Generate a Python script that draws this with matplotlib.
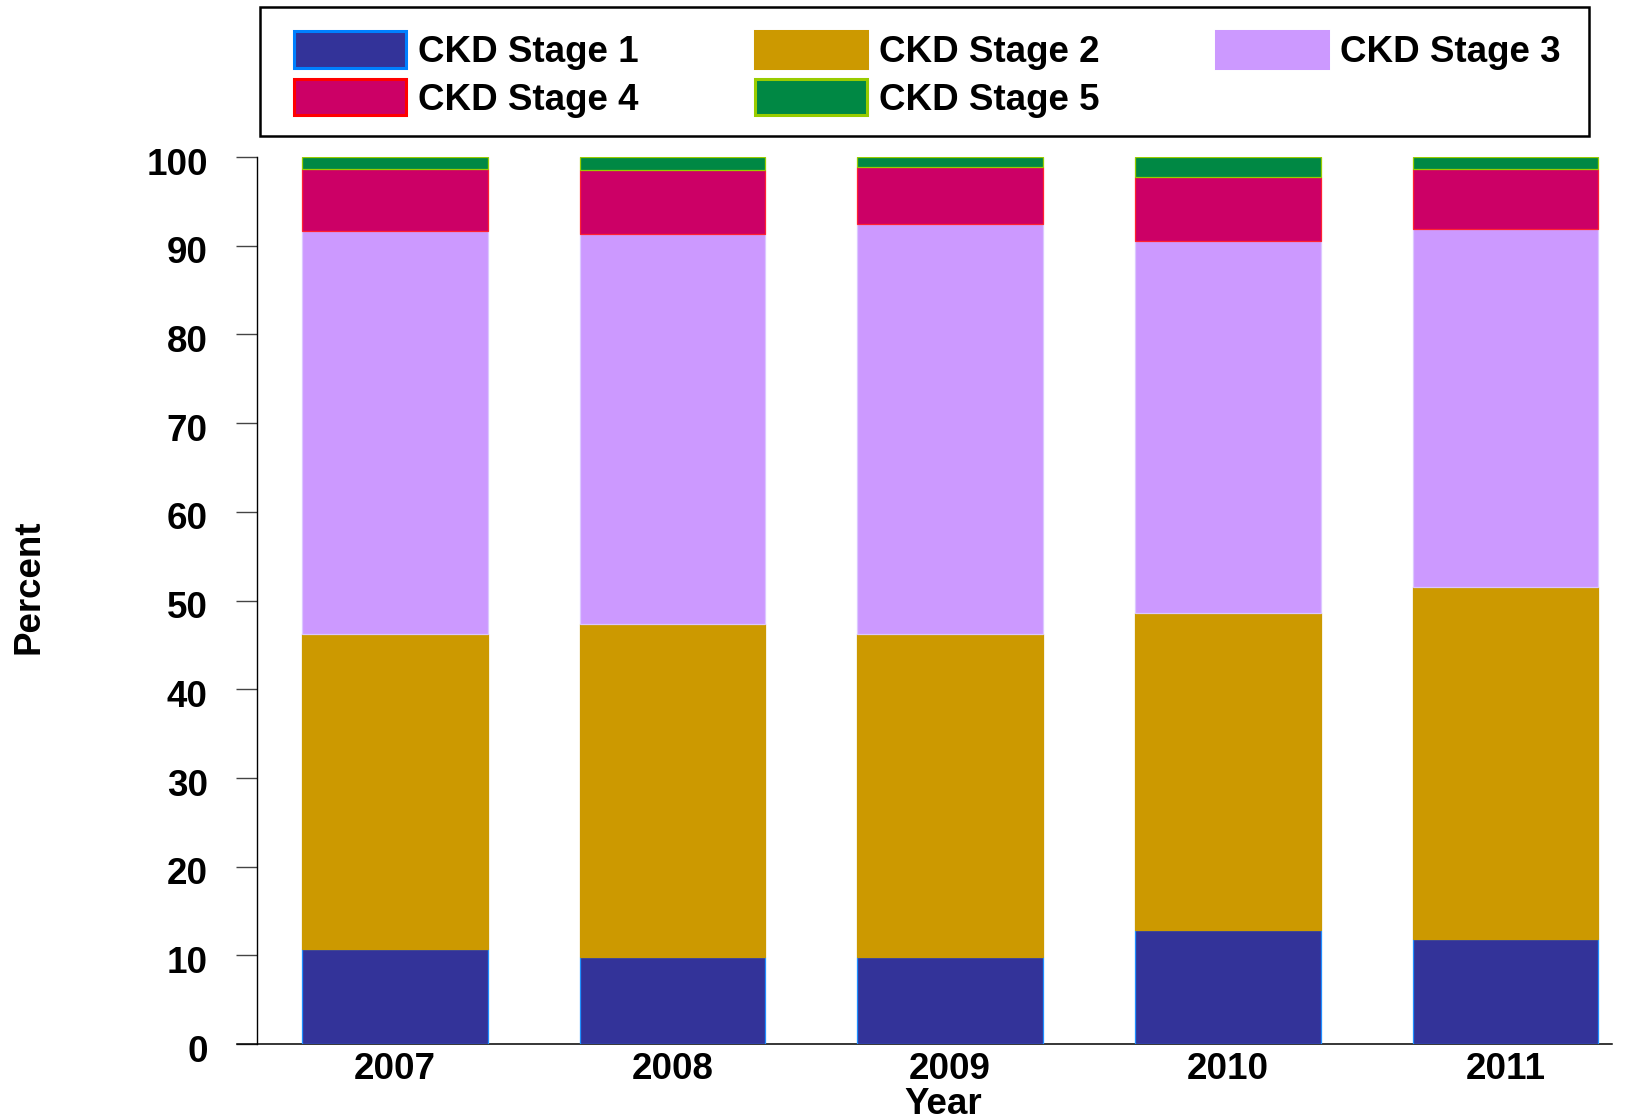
import matplotlib
matplotlib.use("Agg")
import matplotlib.pyplot as plt
import matplotlib.transforms as mtransforms
from matplotlib.patches import Patch, Rectangle

plt.rcParams['font.family'] = ['Liberation Sans', 'DejaVu Sans']
plt.rcParams['font.weight'] = 'bold'

# values (percent of each year's bar)
years = ['2007', '2008', '2009', '2010', '2011']
stage1 = [10.7, 9.8, 9.8, 12.9, 11.8]
stage2 = [35.5, 37.5, 36.4, 35.7, 39.7]
stage3 = [45.5, 44.0, 46.3, 41.9, 40.4]
stage4 = [6.9, 7.2, 6.4, 7.2, 6.7]
stage5 = [1.4, 1.5, 1.1, 2.3, 1.4]
labels = ['CKD Stage 1', 'CKD Stage 2', 'CKD Stage 3', 'CKD Stage 4', 'CKD Stage 5']
yticks = [0, 10, 20, 30, 40, 50, 60, 70, 80, 90, 100]

faces = ['#333399', '#CC9900', '#CC99FF', '#CC0066', '#008844']
edges = ['#1E8FFF', '#CC9900', '#DCC8FF', '#FF2233', '#99CC00']
leg_edges = ['#0080FF', '#CC9900', '#CC99FF', '#FF0000', '#99CC00']

W, H = 1652, 1120
fig = plt.figure(figsize=(W / 100, H / 100), dpi=100)
ax = fig.add_axes([237 / W, 1 - 1044 / H, (1612 - 237) / W, (1044 - 157) / H])

# move the y spine first, it resets the axis ticks
ax.spines['top'].set_visible(False)
ax.spines['right'].set_visible(False)
ax.spines['left'].set_position(('data', -0.497))
ax.spines['left'].set_linewidth(1.0)
ax.spines['bottom'].set_linewidth(1.1)

x = list(range(len(years)))
bottom = [0.0] * len(years)
for vals, fc, ec in zip([stage1, stage2, stage3, stage4, stage5], faces, edges):
    ax.bar(x, vals, width=0.668, bottom=bottom, color=fc, edgecolor=ec, linewidth=0.9, zorder=3)
    bottom = [b + v for b, v in zip(bottom, vals)]

ax.set_xlim(-0.569, 4.384)
ax.set_ylim(0, 100)
ax.set_yticks(yticks)
ax.set_yticklabels([str(t) for t in yticks], fontsize=26.5, fontweight='bold')
ax.set_xticks(x)
ax.set_xticklabels(years, fontsize=26.5, fontweight='bold')
ax.tick_params(axis='y', direction='out', length=15, width=1.0, color='#444444', pad=22)
ax.tick_params(axis='x', length=0, pad=5.5)

# the reference sets its y numbers a touch below the tick marks
shift = mtransforms.ScaledTranslation(1.5 / 72, -3 / 72, fig.dpi_scale_trans)
for lab in ax.get_yticklabels():
    lab.set_transform(lab.get_transform() + shift)

fig.text(943 / W, 1 - 1114.5 / H, 'Year', fontsize=26.5, fontweight='bold',
         ha='center', va='baseline')
fig.text(29 / W, 1 - 587 / H, 'Percent', fontsize=26.5, fontweight='bold',
         rotation=90, ha='center', va='center')

# legend, filled row by row like the reference
handles = [Patch(facecolor=fc, edgecolor=ec, linewidth=2.2, label=lb)
           for fc, ec, lb in zip(faces, leg_edges, labels)]
order = [0, 3, 1, 4, 2]
fig.legend([handles[i] for i in order], [labels[i] for i in order],
           ncol=3, loc='upper left', bbox_to_anchor=(294 / W, 1 - 31 / H),
           frameon=False, borderpad=0, borderaxespad=0,
           fontsize=26.5, handlelength=3.04, handleheight=1.15,
           handletextpad=0.34, columnspacing=3.15, labelspacing=0.25)
fig.patches.append(Rectangle((260 / W, 1 - 135.7 / H), (1589 - 260) / W, (135.7 - 7.3) / H,
                             transform=fig.transFigure, fill=False,
                             edgecolor='black', linewidth=1.8))

fig.savefig('out.png', dpi=100)
